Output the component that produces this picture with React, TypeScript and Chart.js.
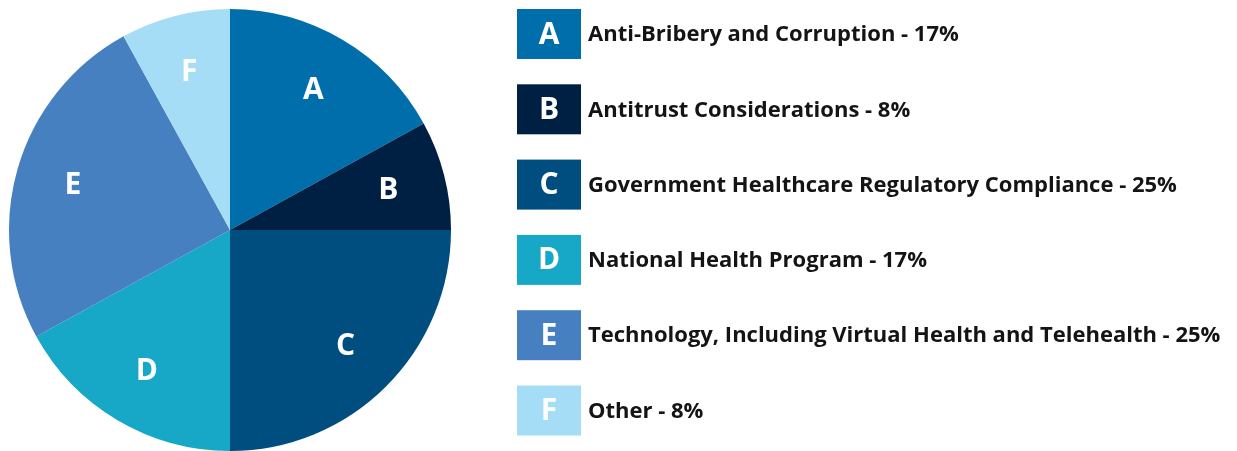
import React, { useEffect, useRef } from "react";
import { Chart, registerables } from "chart.js";

Chart.register(...registerables);

const letters = ["A", "B", "C", "D", "E", "F"];
const names = [
  "Anti-Bribery and Corruption",
  "Antitrust Considerations",
  "Government Healthcare Regulatory Compliance",
  "National Health Program",
  "Technology, Including Virtual Health and Telehealth",
  "Other",
];
const values = [17, 8, 25, 17, 25, 8];
const colors = ["#006EAB", "#002043", "#004D7F", "#17A8C8", "#4680C0", "#A6DDF6"];

const W = 1237;
const H = 451;

const sliceLabels = {
  id: "sliceLabels",
  afterDatasetsDraw(chart: any) {
    const ctx = chart.ctx;
    const meta = chart.getDatasetMeta(0);
    ctx.save();
    ctx.fillStyle = "#ffffff";
    ctx.font = "bold 30px 'Open Sans', sans-serif";
    ctx.textAlign = "center";
    ctx.textBaseline = "middle";
    meta.data.forEach((arc: any, i: number) => {
      const p = arc.getProps(["x", "y", "startAngle", "endAngle", "outerRadius"], true);
      const mid = (p.startAngle + p.endAngle) / 2;
      const r = p.outerRadius * 0.74;
      ctx.fillText(letters[i], p.x + Math.cos(mid) * r, p.y + Math.sin(mid) * r + 1);
    });
    ctx.restore();
  },
};

const sideLegend = {
  id: "sideLegend",
  afterDraw(chart: any) {
    const ctx = chart.ctx;
    const boxX = 517;
    const boxW = 64;
    const boxH = 50;
    const top = 9;
    const step = 75.3;
    ctx.save();
    letters.forEach((l, i) => {
      const y = top + i * step;
      ctx.fillStyle = colors[i];
      ctx.fillRect(boxX, y, boxW, boxH);
      ctx.fillStyle = "#ffffff";
      ctx.font = "bold 30px 'Open Sans', sans-serif";
      ctx.textAlign = "center";
      ctx.textBaseline = "middle";
      ctx.fillText(l, boxX + boxW / 2, y + boxH / 2 + 1);
      ctx.fillStyle = "#141414";
      ctx.font = "bold 22px 'Open Sans', sans-serif";
      ctx.textAlign = "left";
      ctx.fillText(`${names[i]} - ${values[i]}%`, 588, y + boxH / 2 + 1);
    });
    ctx.restore();
  },
};

export default function App() {
  const ref = useRef<HTMLCanvasElement | null>(null);
  useEffect(() => {
    if (!ref.current) return;
    const chart = new Chart(ref.current, {
      type: "pie",
      data: {
        labels: names,
        datasets: [
          {
            data: values,
            backgroundColor: colors,
            borderWidth: 0,
          },
        ],
      },
      options: {
        animation: false,
        responsive: false,
        maintainAspectRatio: false,
        layout: { padding: { left: 9, top: 9, right: W - 451, bottom: 0 } },
        plugins: {
          legend: { display: false },
          tooltip: { enabled: false },
        },
      },
      plugins: [sliceLabels, sideLegend],
    });
    return () => chart.destroy();
  }, []);
  return (
    <div style={{ position: "fixed", left: 0, top: 0, width: W, height: H, background: "#fff" }}>
      <canvas ref={ref} width={W} height={H} style={{ width: W, height: H, display: "block" }} />
    </div>
  );
}
